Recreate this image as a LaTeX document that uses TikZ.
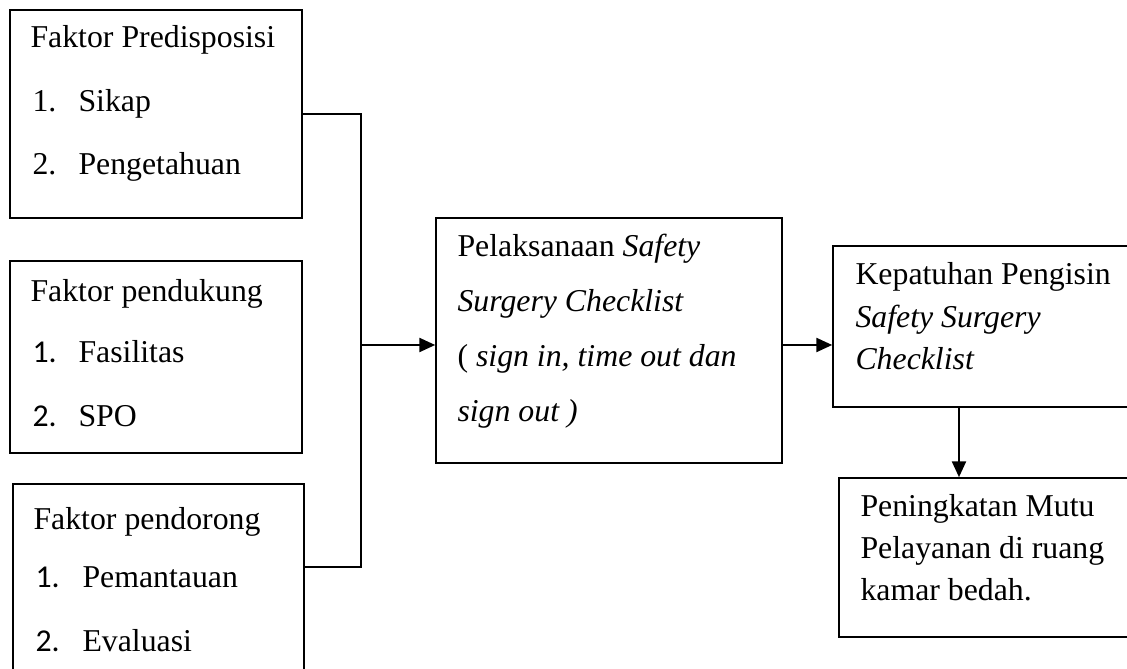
\documentclass[tikz,border=0pt]{standalone}
\usepackage{fontspec}
\setmainfont{Liberation Serif}
\newfontfamily\numfont{Carlito}
\usetikzlibrary{arrows.meta}
\usetikzlibrary{fit}
\tikzset{
  box/.style={draw,line width=0.6pt,inner sep=0pt},
  txt/.style={anchor=base west,inner sep=0pt,font=\fontsize{12}{14}\selectfont},
  line/.style={line width=0.8pt},
  arr/.style={line width=0.8pt,-{Triangle[length=6pt,width=5.3pt]}}
}

\begin{document}
\begin{tikzpicture}[x=0.3774pt,y=-0.3774pt]
    \clip (0,0) rectangle (1127,669);
    % kotak-kotak
    \node[box,fit={(10,10) (302,218)}] (predis) {};
    \node[box,fit={(10,261) (302,453)}] (dukung) {};
    \node[box,fit={(13,484) (304,700)}] (dorong) {};
    \node[box,fit={(436,218) (782,463)}] (laksana) {};
    \node[box,fit={(833,246) (1135,407)}] (patuh) {};
    \node[box,fit={(839,478) (1135,637)}] (mutu) {};
    % isi kotak
    \node[txt] (predisT) at (30,48) {Faktor Predisposisi};
    \foreach \n/\t/\y [count=\i] in {1./Sikap/112, 2./Pengetahuan/175}{
        \node[txt] (predisN\i) at (32,\y) {\n};
        \node[txt] (predis\i) at (78,\y) {\t};
    }
    \node[txt] (dukungT) at (30,302) {Faktor pendukung};
    \foreach \n/\t/\y [count=\i] in {1./Fasilitas/363, 2./SPO/427}{
        \node[txt] (dukungN\i) at (32,\y) {\numfont\n};
        \node[txt] (dukung\i) at (78,\y) {\t};
    }
    \node[txt] (dorongT) at (33,530) {Faktor pendorong};
    \foreach \n/\t/\y [count=\i] in {1./Pemantauan/588, 2./Evaluasi/652}{
        \node[txt] (dorongN\i) at (35,\y) {\numfont\n};
        \node[txt] (dorong\i) at (82,\y) {\t};
    }
    \node[txt] (laksana1) at (457,257) {Pelaksanaan \textit{Safety}};
    \node[txt] (laksana2) at (457,312) {\textit{Surgery Checklist}};
    \node[txt] (laksana3) at (457,367) {( \textit{sign in, time out dan}};
    \node[txt] (laksana4) at (457,422) {\textit{sign out )}};
    \node[txt] (patuh1) at (855,285) {Kepatuhan Pengisin};
    \node[txt] (patuh2) at (855,328) {\textit{Safety Surgery}};
    \node[txt] (patuh3) at (855,370) {\textit{Checklist}};
    \node[txt] (mutu1) at (860,517) {Peningkatan Mutu};
    \node[txt] (mutu2) at (860,559) {Pelayanan di ruang};
    \node[txt] (mutu3) at (860,601) {kamar bedah.};
    % garis penghubung
    \coordinate (busTop) at (361,114);
    \coordinate (busMid) at (361,345);
    \coordinate (busBot) at (361,567);
    \coordinate (drop) at (959,407);
    \draw[line] (predis.east) -- (busTop) -- (busBot) -- (dorong.east |- busBot);
    \draw[arr] (busMid) -- (laksana.west |- busMid);
    \draw[arr] (laksana.east |- busMid) -- (patuh.west |- busMid);
    \draw[arr] (patuh.south -| drop) -- (mutu.north -| drop);
\end{tikzpicture}
\end{document}
